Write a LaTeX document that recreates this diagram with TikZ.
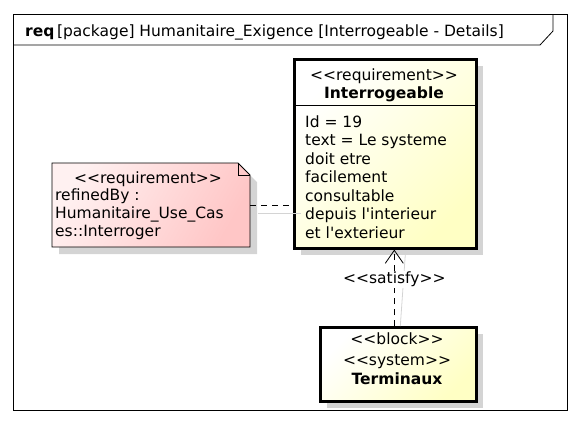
\documentclass[tikz,border=0pt]{standalone}
\usepackage{fontspec}
\setmainfont{DejaVu Sans}[Ligatures=TeXOff]
\usetikzlibrary{arrows.meta,shadows}
\definecolor{reqyellow}{HTML}{FFFFC4}
\definecolor{notepink}{HTML}{FFC6C6}
\definecolor{shadowgray}{HTML}{D4D4D4}
\tikzset{
  txt/.style={inner sep=0pt, font=\fontsize{15.5}{18.5}\selectfont},
  grayshadow/.style={drop shadow={shadow xshift=7pt, shadow yshift=-7pt, fill=shadowgray, opacity=1}},
  yelbox/.style={draw, line width=2.6pt, top color=white, bottom color=reqyellow, shading angle=45, grayshadow, inner sep=0pt},
  notebox/.style={draw, line width=0.8pt, top color=notepink!25!white, bottom color=notepink, shading angle=60, grayshadow},
  shadowline/.style={shadowgray, line width=0.8pt},
}
\begin{document}
\begin{tikzpicture}[x=1pt, y=-1pt, line join=miter]
\useasboundingbox (0,0) rectangle (580,424);
% frame and title tab
\draw[line width=0.8pt] (13,14) rectangle (567,410);
\draw[line width=0.8pt] (13,45) -- (540,45) -- (553,31) -- (553,14);
\node[txt, anchor=base west] (title) at (25,36) {\textbf{req}\,[package] Humanitaire\_Exigence [Interrogeable - Details]};
% note
\path[notebox] (52,163) -- (238,163) -- (250,175) -- (250,247) -- (52,247) -- cycle;
\draw[line width=0.8pt] (238,163) -- (238,175) -- (250,175);
\node[inner sep=0pt, minimum width=198pt, minimum height=84pt, anchor=north west] (note) at (52,163) {};
\node[txt, anchor=base] (notest) at (148,183) {<<requirement>>};
\node[txt, anchor=base west] (note1) at (55,200.5) {refinedBy :};
\node[txt, anchor=base west] (note2) at (55,218.5) {Humanitaire\_Use\_Cas};
\node[txt, anchor=base west] (note3) at (55,236.5) {es::Interroger};
% requirement
\node[yelbox, minimum width=182pt, minimum height=189pt, anchor=north west] (interro) at (293,58) {};
\draw[line width=0.8pt] (293,105) -- (475,105);
\node[txt, anchor=base] (interrost) at (384,80) {<<requirement>>};
\node[txt, anchor=base] (interroname) at (384,98) {\textbf{Interrogeable}};
\foreach \t [count=\i from 0] in {Id = 19, text = Le systeme, doit etre, facilement, consultable, depuis l'interieur, et l'exterieur}
  \node[txt, anchor=base west] (body\i) at (305,{127+18.5*\i}) {\t};
% block
\node[yelbox, minimum width=156pt, minimum height=74pt, anchor=north west] (term) at (319,326) {};
\node[txt, anchor=base] (termst) at (397,344.5) {<<block>>};
\node[txt, anchor=base] (termsys) at (397,365) {<<system>>};
\node[txt, anchor=base] (termname) at (397,384.5) {\textbf{Terminaux}};
% refine link
\draw[shadowline] ([shift={(8,8)}]note.east) -- ([shift={(8,8)}]note.east -| interro.west);
\draw[line width=0.8pt, dash pattern=on 6pt off 5pt] (note.east) -- (note.east -| interro.west);
% satisfy link
\draw[shadowline] ([xshift=2pt]term.north) -- ([xshift=20pt, yshift=-5pt]interro.south);
\draw[line width=0.8pt, dash pattern=on 6pt off 5pt, -{Straight Barb[length=13pt, width=18pt, line width=0.8pt]}] ([xshift=-4pt]term.north) -- ([xshift=-4pt]term.north |- interro.south)
  node[txt, pos=0.61, fill=white, inner sep=1pt] (satisfy) {<<satisfy>>};
\end{tikzpicture}
\end{document}
